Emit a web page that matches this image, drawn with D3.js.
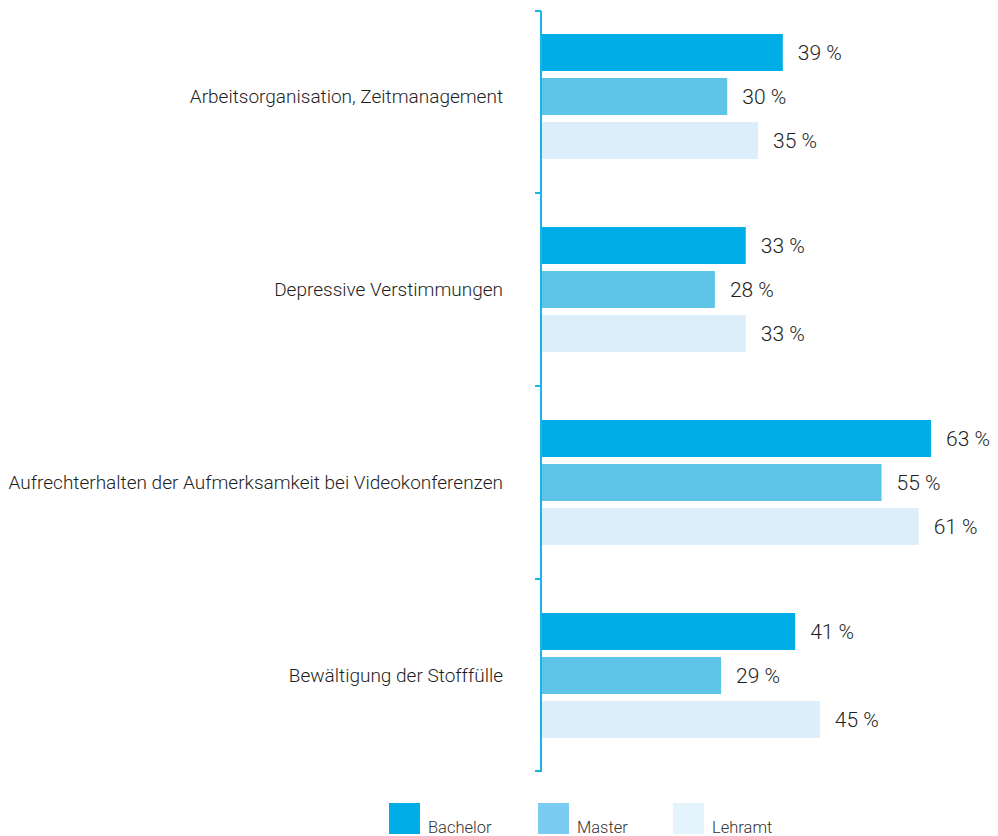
<!DOCTYPE html>
<html>
<head>
<meta charset="utf-8">
<script src="https://cdn.jsdelivr.net/npm/d3@7"></script>
<style>
  body { margin: 0; background: #fff; }
  svg { display: block; font-family: Roboto, "Liberation Sans", "DejaVu Sans", sans-serif; font-weight: 300; }
  .cat { font-size: 19px; fill: #1e1e1e; }
  .val { font-size: 21px; fill: #1e1e1e; }
  .leg { font-size: 16.5px; fill: #333; }
</style>
</head>
<body>
<script>
// categories and series
var categories = [
    "Arbeitsorganisation, Zeitmanagement",
    "Depressive Verstimmungen",
    "Aufrechterhalten der Aufmerksamkeit bei Videokonferenzen",
    "Bewältigung der Stofffülle"
];
var seriesNames = ["Bachelor", "Master", "Lehramt"];
var bachelor = [39, 33, 63, 41];
var master = [30, 28, 55, 29];
var lehramt = [35, 33, 61, 45];
var colors = ["#00ade6", "#5ec5e9", "#dbeef9"];
var legendColors = ["#00ade6", "#7ccbf2", "#e4f3fc"];

var width = 998, height = 836;
var svg = d3.select("body").append("svg")
    .attr("width", width)
    .attr("height", height);

var axisX = 541;

// scales
var x = d3.scaleLinear()
    .domain([0, 63])
    .range([axisX + 1, 931]);

var y = d3.scaleBand()
    .domain(categories)
    .range([0, 772]);

var inner = d3.scaleBand()
    .domain(seriesNames)
    .range([0, 125])
    .paddingInner(7 / 44);

var data = [bachelor, master, lehramt];

// bars for each category
categories.forEach(function(cat, ci) {
    var g = svg.append("g")
        .attr("transform", "translate(0," + (y(cat) + y.bandwidth() / 2 - 62.5) + ")");

    seriesNames.forEach(function(s, si) {
        var v = data[si][ci];
        g.append("rect")
            .attr("x", x(0))
            .attr("y", inner(s))
            .attr("width", x(v) - x(0))
            .attr("height", inner.bandwidth())
            .style("fill", colors[si]);

        g.append("text")
            .attr("class", "val")
            .attr("x", x(v) + 15)
            .attr("y", inner(s) + inner.bandwidth() / 2)
            .attr("dy", "0.36em")
            .text(v + " %");
    });

    // category label
    svg.append("text")
        .attr("class", "cat")
        .attr("x", 503)
        .attr("y", y(cat) + y.bandwidth() / 2)
        .attr("dy", "0.36em")
        .attr("text-anchor", "end")
        .text(cat);
});

// axis line with ticks at band edges
var axisColor = "#1ab4e8";
svg.append("line")
    .attr("x1", axisX).attr("x2", axisX)
    .attr("y1", 11).attr("y2", y.range()[1])
    .style("stroke", axisColor)
    .style("stroke-width", 2);

var tickYs = [11];
categories.forEach(function(cat, ci) { if (ci > 0) tickYs.push(y(cat)); });
tickYs.push(y.range()[1] - 1);

svg.selectAll(".tick")
    .data(tickYs)
    .enter().append("line")
    .attr("x1", axisX - 6).attr("x2", axisX)
    .attr("y1", function(d) { return d; })
    .attr("y2", function(d) { return d; })
    .style("stroke", axisColor)
    .style("stroke-width", 2);

// legend
var legendX = [389, 538, 673];
seriesNames.forEach(function(s, si) {
    svg.append("rect")
        .attr("x", legendX[si])
        .attr("y", 803)
        .attr("width", 31)
        .attr("height", 31)
        .style("fill", legendColors[si]);

    svg.append("text")
        .attr("class", "leg")
        .attr("x", legendX[si] + 39)
        .attr("y", 833)
        .text(s);
});
</script>
</body>
</html>
